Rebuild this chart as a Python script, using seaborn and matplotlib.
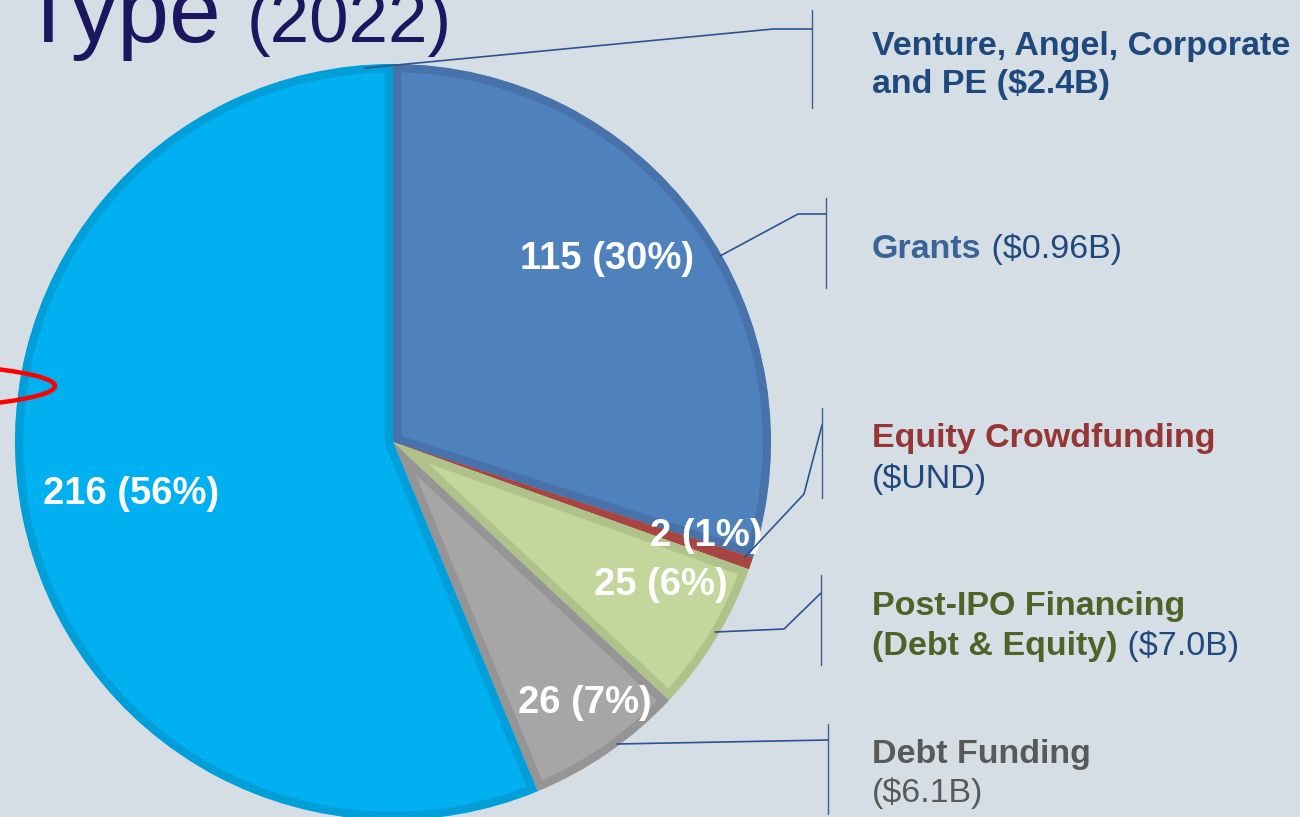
import matplotlib
matplotlib.use("Agg")
import matplotlib.pyplot as plt
import seaborn as sns
from matplotlib.patches import Ellipse, Wedge

# --- data ---
categories = ["Grants", "Equity Crowdfunding", "Post-IPO Financing", "Debt Funding",
              "Venture, Angel, Corporate and PE"]
counts = [115, 2, 25, 26, 216]
pcts = [30, 1, 6, 7, 56]
fill_colors = ["#4F81BD", "#C0504D", "#C3D69B", "#A6A6A6", "#00B0F0"]
edge_colors = ["#4773AA", "#A84542", "#AFC289", "#959595", "#019FD9"]

BG = "#D6DEE5"
NAVY = "#1F497D"

sns.set_theme(style="white", rc={"axes.facecolor": BG, "figure.facecolor": BG})
plt.rcParams["font.family"] = ["Liberation Sans", "DejaVu Sans"]

fig = plt.figure(figsize=(13, 8.17), dpi=100)
ax = fig.add_axes([0, 0, 1, 1])

# axes work in pixel units, y pointing down (like the slide)
# y is inverted, so startangle=-90 + counterclock=True = clockwise from 12 o'clock
wedges, _ = ax.pie(counts, colors=fill_colors, startangle=-90, counterclock=True,
                   center=(393, 442), radius=378,
                   wedgeprops=dict(linewidth=12))

ax.set_xlim(0, 1300)
ax.set_ylim(817, 0)
ax.set_aspect("auto")
ax.axis("off")

for w, ec in zip(wedges, edge_colors):
    w.set_edgecolor(ec)
    # pie turns clipping off; turn it back on and clip to a copy of the wedge
    # so only the inner half of the outline shows
    w.set_clip_on(True)
    clip = Wedge(w.center, w.r, w.theta1, w.theta2, transform=ax.transData)
    w.set_clip_path(clip)

# value labels inside the slices
label_pos = [(607, 259), (706, 536), (661, 585), (585, 703), (131, 494)]
for (x, y), c, p in zip(label_pos, counts, pcts):
    ax.text(x, y, f"{c} ({p}%)", color="white", fontsize=27.5, fontweight="bold",
            ha="center", va="center")

# title (cut off at the top of the slide)
ax.text(20, 42, "Type", fontsize=67, color="#1C165E", va="baseline")
ax.text(247, 42, "(2022)", fontsize=51, color="#1C165E", va="baseline")

# red highlight ellipse on the left edge
ax.add_patch(Ellipse((-165, 386), 440, 50, fill=False, edgecolor="#FF0000", lw=3.2, zorder=5))

# leader lines + brackets
leaders = [
    [(365, 68), (773, 29), (812, 29)],
    [(720, 256), (798, 214), (826, 214)],
    [(745, 557), (804, 494), (822, 425)],
    [(715, 632), (784, 629), (821, 593)],
    [(617, 744), (828, 740)],
]
brackets = [(812, 10, 108), (826, 198, 288), (822, 408, 498), (821, 575, 665), (828, 724, 814)]
for pts in leaders:
    xs, ys = zip(*pts)
    ax.plot(xs, ys, color="#2A5590", lw=1.2, zorder=4)
for x, y0, y1 in brackets:
    ax.plot([x, x], [y0, y1], color="#3A5F8F", lw=1.0, zorder=4)

# right-hand legend text
FS = 24.5


def label(x, y, parts):
    prev = None
    for txt, col, bold in parts:
        kw = dict(fontsize=FS, color=col, fontweight="bold" if bold else "normal")
        if prev is None:
            prev = ax.text(x, y, txt, va="baseline", **kw)
        else:
            prev = ax.annotate(txt, xy=(1, 0), xycoords=prev, va="bottom", **kw)


label(872, 55, [("Venture, Angel, Corporate", NAVY, True)])
label(872, 93, [("and PE ($2.4B)", NAVY, True)])
label(872, 258, [("Grants", "#3A6496", True), (" ($0.96B)", NAVY, False)])
label(872, 447, [("Equity Crowdfunding", "#963634", True)])
label(872, 488, [("($UND)", NAVY, False)])
label(872, 615, [("Post-IPO Financing", "#4F6228", True)])
label(872, 655, [("(Debt & Equity)", "#4F6228", True), (" ($7.0B)", NAVY, False)])
label(872, 763, [("Debt Funding", "#595959", True)])
label(872, 802, [("($6.1B)", "#595959", False)])

fig.savefig("out.png", dpi=100, facecolor=BG)
